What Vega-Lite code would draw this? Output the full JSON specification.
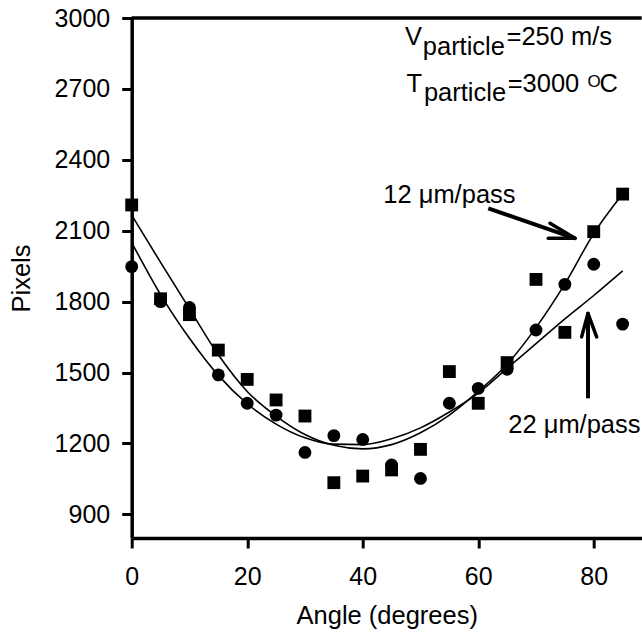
{
  "$schema": "https://vega.github.io/schema/vega-lite/v6.json",
  "width": 510,
  "height": 520,
  "autosize": {"type": "none"},
  "padding": {"left": 131.7, "top": 18, "right": 0, "bottom": 95},
  "background": "white",
  "data": {"values": [{}]},
  "config": {
    "font": "Liberation Sans",
    "view": {"stroke": null},
    "axis": {
      "domainColor": "black", "domainWidth": 3.5,
      "tickColor": "black", "tickWidth": 3, "tickSize": 10,
      "labelColor": "black", "labelFontSize": 25, "labelFont": "Liberation Sans",
      "titleColor": "black", "titleFontSize": 25.5, "titleFontWeight": "normal", "titleFont": "Liberation Sans",
      "grid": false, "labelFlush": false
    }
  },
  "datasets": {
    "points": [
      {"angle": 0, "pixels": 2209, "series": "12 μm/pass"},
      {"angle": 5, "pixels": 1812, "series": "12 μm/pass"},
      {"angle": 10, "pixels": 1745, "series": "12 μm/pass"},
      {"angle": 15, "pixels": 1595, "series": "12 μm/pass"},
      {"angle": 20, "pixels": 1471, "series": "12 μm/pass"},
      {"angle": 25, "pixels": 1384, "series": "12 μm/pass"},
      {"angle": 30, "pixels": 1316, "series": "12 μm/pass"},
      {"angle": 35, "pixels": 1034, "series": "12 μm/pass"},
      {"angle": 40, "pixels": 1062, "series": "12 μm/pass"},
      {"angle": 45, "pixels": 1088, "series": "12 μm/pass"},
      {"angle": 50, "pixels": 1175, "series": "12 μm/pass"},
      {"angle": 55, "pixels": 1504, "series": "12 μm/pass"},
      {"angle": 60, "pixels": 1370, "series": "12 μm/pass"},
      {"angle": 65, "pixels": 1542, "series": "12 μm/pass"},
      {"angle": 70, "pixels": 1894, "series": "12 μm/pass"},
      {"angle": 75, "pixels": 1670, "series": "12 μm/pass"},
      {"angle": 80, "pixels": 2096, "series": "12 μm/pass"},
      {"angle": 85, "pixels": 2255, "series": "12 μm/pass"},
      {"angle": 0, "pixels": 1948, "series": "22 μm/pass"},
      {"angle": 5, "pixels": 1800, "series": "22 μm/pass"},
      {"angle": 10, "pixels": 1775, "series": "22 μm/pass"},
      {"angle": 15, "pixels": 1490, "series": "22 μm/pass"},
      {"angle": 20, "pixels": 1370, "series": "22 μm/pass"},
      {"angle": 25, "pixels": 1320, "series": "22 μm/pass"},
      {"angle": 30, "pixels": 1162, "series": "22 μm/pass"},
      {"angle": 35, "pixels": 1233, "series": "22 μm/pass"},
      {"angle": 40, "pixels": 1217, "series": "22 μm/pass"},
      {"angle": 45, "pixels": 1109, "series": "22 μm/pass"},
      {"angle": 50, "pixels": 1052, "series": "22 μm/pass"},
      {"angle": 55, "pixels": 1370, "series": "22 μm/pass"},
      {"angle": 60, "pixels": 1433, "series": "22 μm/pass"},
      {"angle": 65, "pixels": 1514, "series": "22 μm/pass"},
      {"angle": 70, "pixels": 1680, "series": "22 μm/pass"},
      {"angle": 75, "pixels": 1873, "series": "22 μm/pass"},
      {"angle": 80, "pixels": 1958, "series": "22 μm/pass"},
      {"angle": 85, "pixels": 1705, "series": "22 μm/pass"}
    ],
    "fits": [
      {"angle": 0, "pixels": 2166, "series": "12 μm/pass"},
      {"angle": 5, "pixels": 1966, "series": "12 μm/pass"},
      {"angle": 10, "pixels": 1770, "series": "12 μm/pass"},
      {"angle": 15, "pixels": 1575, "series": "12 μm/pass"},
      {"angle": 20, "pixels": 1420, "series": "12 μm/pass"},
      {"angle": 25, "pixels": 1316, "series": "12 μm/pass"},
      {"angle": 30, "pixels": 1238, "series": "12 μm/pass"},
      {"angle": 35, "pixels": 1192, "series": "12 μm/pass"},
      {"angle": 40, "pixels": 1177, "series": "12 μm/pass"},
      {"angle": 45, "pixels": 1195, "series": "12 μm/pass"},
      {"angle": 50, "pixels": 1245, "series": "12 μm/pass"},
      {"angle": 55, "pixels": 1320, "series": "12 μm/pass"},
      {"angle": 60, "pixels": 1420, "series": "12 μm/pass"},
      {"angle": 65, "pixels": 1535, "series": "12 μm/pass"},
      {"angle": 70, "pixels": 1690, "series": "12 μm/pass"},
      {"angle": 75, "pixels": 1875, "series": "12 μm/pass"},
      {"angle": 80, "pixels": 2088, "series": "12 μm/pass"},
      {"angle": 85, "pixels": 2255, "series": "12 μm/pass"},
      {"angle": 0, "pixels": 2050, "series": "22 μm/pass"},
      {"angle": 5, "pixels": 1830, "series": "22 μm/pass"},
      {"angle": 10, "pixels": 1645, "series": "22 μm/pass"},
      {"angle": 15, "pixels": 1488, "series": "22 μm/pass"},
      {"angle": 20, "pixels": 1368, "series": "22 μm/pass"},
      {"angle": 25, "pixels": 1282, "series": "22 μm/pass"},
      {"angle": 30, "pixels": 1224, "series": "22 μm/pass"},
      {"angle": 35, "pixels": 1197, "series": "22 μm/pass"},
      {"angle": 40, "pixels": 1195, "series": "22 μm/pass"},
      {"angle": 45, "pixels": 1220, "series": "22 μm/pass"},
      {"angle": 50, "pixels": 1266, "series": "22 μm/pass"},
      {"angle": 55, "pixels": 1333, "series": "22 μm/pass"},
      {"angle": 60, "pixels": 1413, "series": "22 μm/pass"},
      {"angle": 65, "pixels": 1518, "series": "22 μm/pass"},
      {"angle": 70, "pixels": 1622, "series": "22 μm/pass"},
      {"angle": 75, "pixels": 1727, "series": "22 μm/pass"},
      {"angle": 80, "pixels": 1826, "series": "22 μm/pass"},
      {"angle": 85, "pixels": 1930, "series": "22 μm/pass"}
    ]
  },
  "layer": [
    {
      "data": {"name": "fits"},
      "mark": {"type": "line", "interpolate": "monotone", "color": "black", "strokeWidth": 1.6},
      "encoding": {
        "x": {"field": "angle", "type": "quantitative", "title": "Angle (degrees)",
              "scale": {"domain": [0, 88.3], "nice": false, "zero": false},
              "axis": {"values": [0, 20, 40, 60, 80], "labelPadding": 17, "titlePadding": 14}},
        "y": {"field": "pixels", "type": "quantitative", "title": "Pixels",
              "scale": {"domain": [800, 3000], "nice": false, "zero": false},
              "axis": {"values": [900, 1200, 1500, 1800, 2100, 2400, 2700, 3000], "format": "d", "labelPadding": 12, "titlePadding": 20}},
        "detail": {"field": "series"}
      }
    },
    {
      "data": {"name": "points"},
      "mark": {"type": "point", "filled": true, "opacity": 1, "color": "black", "size": 165},
      "encoding": {
        "x": {"field": "angle", "type": "quantitative", "title": "Angle (degrees)"},
        "y": {"field": "pixels", "type": "quantitative", "title": "Pixels"},
        "shape": {"field": "series", "type": "nominal",
                  "scale": {"domain": ["12 μm/pass", "22 μm/pass"], "range": ["square", "circle"]},
                  "legend": null}
      }
    },
    {"mark": {"type": "rule", "color": "black", "strokeWidth": 3.5}, "encoding": {"y": {"datum": 3000}}},
    {"mark": {"type": "rule", "color": "black", "strokeWidth": 4}, "encoding": {"x": {"datum": 61.74}, "y": {"datum": 2194.8}, "x2": {"datum": 76.76}, "y2": {"datum": 2067.9}}},
    {"mark": {"type": "rule", "color": "black", "strokeWidth": 3.5, "strokeCap": "round"}, "encoding": {"x": {"datum": 76.76}, "y": {"datum": 2067.9}, "x2": {"datum": 72.42}, "y2": {"datum": 2131.4}}},
    {"mark": {"type": "rule", "color": "black", "strokeWidth": 3.5, "strokeCap": "round"}, "encoding": {"x": {"datum": 76.76}, "y": {"datum": 2067.9}, "x2": {"datum": 72.13}, "y2": {"datum": 2067.9}}},
    {"mark": {"type": "rule", "color": "black", "strokeWidth": 4}, "encoding": {"x": {"datum": 79.0}, "y": {"datum": 1391}, "x2": {"datum": 79.0}, "y2": {"datum": 1748}}},
    {"mark": {"type": "rule", "color": "black", "strokeWidth": 3.5, "strokeCap": "round"}, "encoding": {"x": {"datum": 79.0}, "y": {"datum": 1750}, "x2": {"datum": 77.9}, "y2": {"datum": 1651}}},
    {"mark": {"type": "rule", "color": "black", "strokeWidth": 3.5, "strokeCap": "round"}, "encoding": {"x": {"datum": 79.0}, "y": {"datum": 1750}, "x2": {"datum": 80.5}, "y2": {"datum": 1651}}},
    {"mark": {"type": "text", "text": "V", "align": "left", "baseline": "alphabetic", "fontSize": 25.5, "color": "black"}, "encoding": {"x": {"datum": 47.32}, "y": {"datum": 2885.8}}},
    {"mark": {"type": "text", "text": "particle", "align": "left", "baseline": "alphabetic", "fontSize": 25.5, "color": "black"}, "encoding": {"x": {"datum": 50.4}, "y": {"datum": 2843.5}}},
    {"mark": {"type": "text", "text": "=250 m/s", "align": "left", "baseline": "alphabetic", "fontSize": 25.5, "color": "black"}, "encoding": {"x": {"datum": 64.9}, "y": {"datum": 2885.8}}},
    {"mark": {"type": "text", "text": "T", "align": "left", "baseline": "alphabetic", "fontSize": 25.5, "color": "black"}, "encoding": {"x": {"datum": 47.6}, "y": {"datum": 2686.9}}},
    {"mark": {"type": "text", "text": "particle", "align": "left", "baseline": "alphabetic", "fontSize": 25.5, "color": "black"}, "encoding": {"x": {"datum": 50.6}, "y": {"datum": 2648.8}}},
    {"mark": {"type": "text", "text": "=3000", "align": "left", "baseline": "alphabetic", "fontSize": 25.5, "color": "black"}, "encoding": {"x": {"datum": 65.1}, "y": {"datum": 2686.9}}},
    {"mark": {"type": "text", "text": "O", "align": "left", "baseline": "alphabetic", "fontSize": 17, "color": "black"}, "encoding": {"x": {"datum": 78.9}, "y": {"datum": 2708}}},
    {"mark": {"type": "text", "text": "C", "align": "left", "baseline": "alphabetic", "fontSize": 25.5, "color": "black"}, "encoding": {"x": {"datum": 81.0}, "y": {"datum": 2686.9}}},
    {"mark": {"type": "text", "text": "12 μm/pass", "align": "left", "baseline": "alphabetic", "fontSize": 25.5, "color": "black"}, "encoding": {"x": {"datum": 43.56}, "y": {"datum": 2217.3}}},
    {"mark": {"type": "text", "text": "22 μm/pass", "align": "left", "baseline": "alphabetic", "fontSize": 25.5, "color": "black"}, "encoding": {"x": {"datum": 65.2}, "y": {"datum": 1244.1}}}
  ]
}
